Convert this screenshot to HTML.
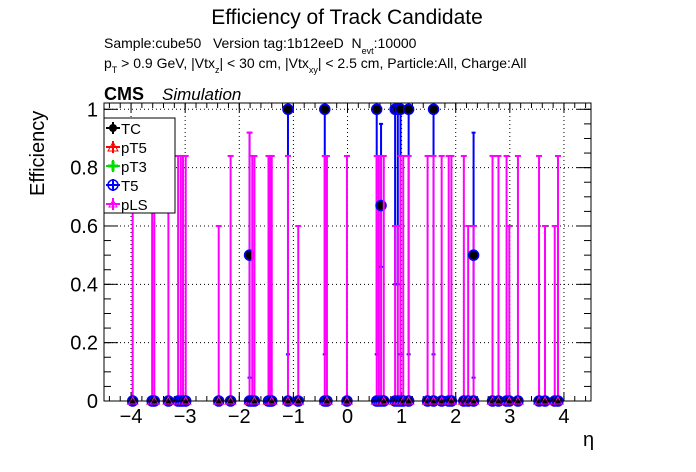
<!DOCTYPE html>
<html><head><meta charset="utf-8"><style>
body{margin:0;background:#fff;}
svg{display:block;font-family:"Liberation Sans",sans-serif;}
text{white-space:pre;}
</style></head><body>
<svg id="chart" width="696" height="472" viewBox="0 0 696 472">
<text x="347" y="24" font-size="21" text-anchor="middle">Efficiency of Track Candidate</text>
<text x="104" y="48" font-size="14">Sample:cube50   Version tag:1b12eeD  N<tspan font-size="9" dy="6">evt</tspan><tspan dy="-6">:10000</tspan></text>
<text x="104" y="68" font-size="14">p<tspan font-size="9" dy="5">T</tspan><tspan dy="-5"> &gt; 0.9 GeV, |Vtx</tspan><tspan font-size="9" dy="5">z</tspan><tspan dy="-5">| &lt; 30 cm, |Vtx</tspan><tspan font-size="9" dy="5">xy</tspan><tspan dy="-5">| &lt; 2.5 cm, Particle:All, Charge:All</tspan></text>
<text x="104" y="100" font-size="18" font-weight="bold">CMS</text>
<text x="162" y="100" font-size="17" font-style="italic">Simulation</text>
<text transform="translate(44,196) rotate(-90)" font-size="20" text-anchor="start">Efficiency</text>
<text x="583" y="446" font-size="20">η</text>
<g id="grid"></g><g id="axes"></g><g id="marks"></g>
<rect x="104" y="103" width="487" height="298" fill="none" stroke="#000" stroke-width="1"/>
<g id="legend">
<rect x="104" y="118" width="71" height="95" fill="#fff" stroke="#000" stroke-width="1"/>
</g>
</svg>
<script>
const etas   =[-3.97,-3.61,-3.57,-3.31,-3.13,-3.08,-3.04,-2.99,-2.38,-2.16,-1.81,-1.76,-1.72,-1.46,-1.43,-1.40,-1.10,-0.91,-0.42,-0.38,-0.01,0.54,0.58,0.62,0.67,0.88,0.93,0.98,1.03,1.13,1.48,1.59,1.74,1.87,1.92,2.15,2.23,2.33,2.68,2.79,2.94,2.99,3.15,3.54,3.65,3.83,3.89];
const tcVal  =[0,0,0,0,0,0,0,0,0,0,0.5,0,0,0,0,0,1,0,1,0,0,1,0,0.67,0,1,1,1,0,1,0,1,0,0,0,0,0,0.5,0,0,0,0,0,0,0,0,0];
const tcLow  =[0,0,0,0,0,0,0,0,0,0,0.08,0,0,0,0,0,0.16,0,0.16,0,0,0.16,0,0.46,0,0.4,0.4,0.16,0,0.16,0,0.16,0,0,0,0,0,0.08,0,0,0,0,0,0,0,0,0];
const tcHigh =[0,0,0,0,0,0,0,0,0,0,0.92,0,0,0,0,0,1,0,1,0,0,1,0,0.95,0,1,1,1,0,1,0,1,0,0,0,0,0,0.92,0,0,0,0,0,0,0,0,0];
const plsHigh=[0.84,0.84,0.84,0.84,0.84,0.84,0.84,0.84,0.6,0.84,0.92,0.84,0.84,0.84,0.84,0.84,0.84,0.6,0.84,0.84,0.84,0.84,0.84,0.84,0.84,0.6,0.6,0.84,0.84,0.84,0.84,0.84,0.84,0.84,0.84,0.84,0.6,0.6,0.84,0.84,0.84,0.6,0.84,0.84,0.6,0.6,0.84];
const xTicks=[-4,-3,-2,-1,0,1,2,3,4];
const yTicks=[0,0.2,0.4,0.6,0.8,1];
const yTickLabels=["0","0.2","0.4","0.6","0.8","1"];
const legendLabels=["TC","pT5","pT3","T5","pLS"];
const X0=104,X1=591,Y0=401,Y1=103,XMIN=-4.5,XMAX=4.5,YMIN=0,YMAX=1.0216;
const sx=v=>X0+(v-XMIN)/(XMAX-XMIN)*(X1-X0);
const sy=v=>Y0-(v-YMIN)/(YMAX-YMIN)*(Y0-Y1);
const NS="http://www.w3.org/2000/svg";
function mk(tag,parent,attrs){const e=document.createElementNS(NS,tag);for(const k in attrs)e.setAttribute(k,attrs[k]);parent.appendChild(e);return e;}
const grid=document.getElementById('grid'),axes=document.getElementById('axes'),marks=document.getElementById('marks');
xTicks.forEach(t=>{
 const g=mk('line',grid,{x1:sx(t),x2:sx(t),y1:Y0,y2:Y1,stroke:'#000','stroke-dasharray':'1,3','stroke-width':1});
 
 
 mk('line',axes,{x1:sx(t),x2:sx(t),y1:Y0,y2:Y0-9,stroke:'#000'});
 mk('line',axes,{x1:sx(t),x2:sx(t),y1:Y1,y2:Y1+9,stroke:'#000'});
 const l=mk('text',axes,{x:sx(t),y:423,'font-size':20,'text-anchor':'middle'});
 l.textContent=t===0?"0":String(t).replace('-','−');
 
 
});
for(let v=-4.4;v<=4.41;v+=0.2){mk('line',axes,{x1:sx(v),x2:sx(v),y1:Y0,y2:Y0-5,stroke:'#000'});mk('line',axes,{x1:sx(v),x2:sx(v),y1:Y1,y2:Y1+5,stroke:'#000'});}
yTicks.forEach((t,i)=>{
 if(t>0){const g=mk('line',grid,{x1:X0,x2:X1,y1:sy(t),y2:sy(t),stroke:'#000','stroke-dasharray':'1,3','stroke-width':1});
 
 }
 mk('line',axes,{x1:X0,x2:X0+14,y1:sy(t),y2:sy(t),stroke:'#000'});
 mk('line',axes,{x1:X1,x2:X1-14,y1:sy(t),y2:sy(t),stroke:'#000'});
 const l=mk('text',axes,{x:98,y:sy(t)+7,'font-size':20,'text-anchor':'end'});
 l.textContent=yTickLabels[i];
 
 
});
for(let v=0.05;v<1.02;v+=0.05){mk('line',axes,{x1:X0,x2:X0+7,y1:sy(v),y2:sy(v),stroke:'#000'});mk('line',axes,{x1:X1,x2:X1-7,y1:sy(v),y2:sy(v),stroke:'#000'});}
function cluster(g,x,y){
 mk('path',g,{d:`M${x-5},${y+3}L${x},${y-5}L${x+5},${y+3}Z`,fill:'none',stroke:'#f00','stroke-width':1.2});
 mk('path',g,{d:`M${x-5},${y}H${x+5}M${x},${y-5}V${y+5}`,stroke:'#0d0','stroke-width':3});
 mk('circle',g,{cx:x,cy:y,r:5,fill:'#000',stroke:'#00f','stroke-width':1.5});
 mk('path',g,{d:`M${x-4},${y+3}L${x},${y-4}L${x+4},${y+3}Z`,fill:'none',stroke:'#f0f','stroke-width':1});
}
etas.forEach((e,i)=>{
 const g=mk('g',marks,{});
 
 
 const x=sx(e);
 if(tcVal[i]>0){
  mk('line',g,{x1:x,x2:x,y1:sy(tcLow[i]),y2:sy(tcHigh[i]),stroke:'#00f','stroke-width':2});
  mk('line',g,{x1:x-2,x2:x+2,y1:sy(tcLow[i]),y2:sy(tcLow[i]),stroke:'#00f','stroke-width':2});
  if(tcHigh[i]<1)mk('line',g,{x1:x-2,x2:x+2,y1:sy(tcHigh[i]),y2:sy(tcHigh[i]),stroke:'#00f','stroke-width':2});
 }
 mk('line',g,{x1:x,x2:x,y1:sy(0),y2:sy(plsHigh[i]),stroke:'#f0f','stroke-width':2});
 mk('line',g,{x1:x-3,x2:x+3,y1:sy(plsHigh[i]),y2:sy(plsHigh[i]),stroke:'#f0f','stroke-width':2});
 cluster(g,x,sy(0));
 if(tcVal[i]>0){mk('circle',g,{cx:x,cy:sy(tcVal[i]),r:5,fill:'#000',stroke:'#00f','stroke-width':1.5});}
});
const leg=document.getElementById('legend');
const cols=['#000','#f00','#0d0','#00f','#f0f'];
legendLabels.forEach((lab,i)=>{
 const y=128+i*19;
 const g=mk('g',leg,{});
 
 
 mk('line',g,{x1:106,x2:120,y1:y,y2:y,stroke:cols[i],'stroke-width':2});
 mk('line',g,{x1:113,x2:113,y1:y-6,y2:y+6,stroke:cols[i],'stroke-width':2});
 if(i===0)mk('circle',g,{cx:113,cy:y,r:4,fill:'#000'});
 else if(i===1)mk('path',g,{d:`M108,${y+4}L113,${y-5}L118,${y+4}Z`,fill:'none',stroke:'#f00'});
 else if(i===2)mk('path',g,{d:`M108,${y}H118M113,${y-5}V${y+5}`,stroke:'#0d0','stroke-width':3});
 else if(i===3)mk('circle',g,{cx:113,cy:y,r:5,fill:'none',stroke:'#00f','stroke-width':1.5});
 else mk('path',g,{d:`M109,${y+3}L113,${y-4}L117,${y+3}Z`,fill:'none',stroke:'#f0f'});
 const t=mk('text',g,{x:121,y:y+6,'font-size':15});
 t.textContent=lab;
});
</script>
</body></html>
